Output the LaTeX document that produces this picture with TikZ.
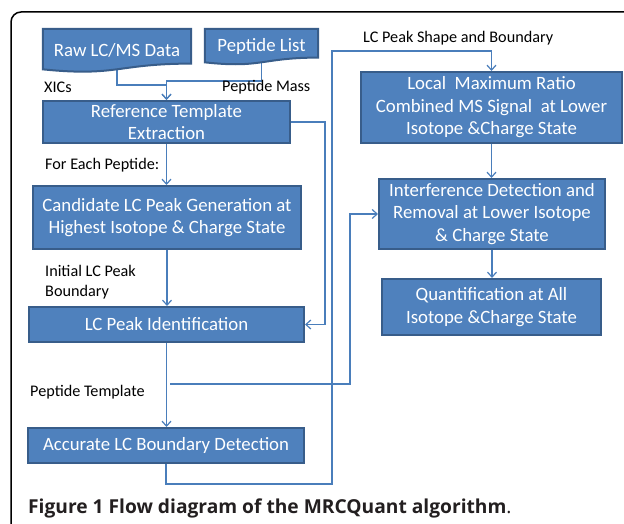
\documentclass[tikz,border=0pt]{standalone}
\usepackage{fontspec}
\setmainfont{Carlito}
\newfontfamily\capfont{Open Sans}
\usetikzlibrary{arrows.meta,calc}
\pgfdeclarelayer{wires}
\pgfdeclarelayer{shapes}
\pgfsetlayers{wires,shapes,main}
\definecolor{boxfill}{HTML}{4F81BD}
\definecolor{boxline}{HTML}{385D8A}
\definecolor{wirecol}{HTML}{4A7EBB}
\definecolor{captext}{HTML}{231F20}

\begin{document}
\begin{tikzpicture}[x=1pt,y=-1pt,
  box/.style={draw=boxline, fill=boxfill, line width=2pt, text=white,
    font=\fontsize{18.8}{22.5}\selectfont, align=center, inner sep=2pt},
  doctext/.style={text=white, font=\fontsize{18.8}{22.5}\selectfont, inner sep=0pt},
  docshape/.style={draw=boxline, fill=boxfill, line width=2pt},
  wire/.style={draw=wirecol, line width=1.2pt},
  arr/.style={wire, -{Straight Barb[length=5pt,width=9pt]}},
  lbl/.style={font=\fontsize{16.2}{20}\selectfont, anchor=west, align=left, inner sep=0pt},
  ]
\useasboundingbox (0,0) rectangle (624,524);
\begin{pgfonlayer}{wires}
\fill[white] (0,0) rectangle (624,524);
\end{pgfonlayer}
\begin{scope}
\clip (0,0) rectangle (624,524);
% outer frame (cut by the page edge on the right and at the bottom)
\draw[line width=1.5pt, rounded corners=10pt] (11,560) -- (11,12) -- (660,12);
\end{scope}

% inputs (document shapes)
\node[doctext, minimum width=148pt, minimum height=43pt] (raw) at (117,50.5) {Raw LC/MS Data};
\node[doctext, minimum width=113pt, minimum height=35.5pt] (pep) at (261.5,46.75) {Peptide List};
\begin{pgfonlayer}{shapes}
\foreach \d in {raw,pep}{
  \path[docshape] (\d.north west) -- (\d.north east)
    -- ($(\d.north east)!0.802!(\d.south east)$)
    .. controls ($(\d.north)!0.802!(\d.south)$) and ($(\d.north)!1.108!(\d.south)$)
    .. ($(\d.north west)!0.934!(\d.south west)$) -- cycle;
}
\end{pgfonlayer}

% left column
\node[box, minimum width=247pt, minimum height=42pt] (ref) at (166.5,122) {Reference Template\\Extraction};
\node[box, minimum width=268pt, minimum height=63pt] (cand) at (167,217.5) {Candidate LC Peak Generation at\\Highest Isotope \& Charge State};
\node[box, minimum width=275pt, minimum height=35pt] (lcid) at (166.5,324.5) {LC Peak Identification};
\node[box, minimum width=276pt, minimum height=35pt] (acc) at (166,445.5) {Accurate LC Boundary Detection};

% right column
\node[box, minimum width=261pt, minimum height=71pt] (local) at (491.5,107.5) {Local\ \ Maximum Ratio\\Combined MS Signal\ \ at Lower\\Isotope \&Charge State};
\node[box, minimum width=226pt, minimum height=70pt] (interf) at (492,214) {Interference Detection and\\Removal at Lower Isotope\\\& Charge State};
\node[box, minimum width=219pt, minimum height=56pt] (quant) at (491.5,307) {Quantification at All\\Isotope \&Charge State};

% labels
\node[lbl] (lxic) at (44,87) {XICs};
\node[lbl] (lmass) at (222,87) {Peptide Mass};
\node[lbl] (lshape) at (363,38) {LC Peak Shape and Boundary};
\node[lbl] (leach) at (45,165) {For Each Peptide:};
\node[lbl] (linit) at (45,282) {Initial LC Peak\\Boundary};
\node[lbl] (ltempl) at (30,392) {Peptide Template};

% caption
\node[anchor=west, inner sep=0pt, text=captext, font=\capfont\fontsize{19.2}{22}\selectfont] (cap) at (28,508)
  {\textbf{Figure 1 Flow diagram of the MRCQuant algorithm}.};

% connectors
\coordinate (loopB) at (332,484);
\coordinate (loopT) at (332,51);
\coordinate (tmpl) at (170,384);
\begin{pgfonlayer}{wires}
\draw[arr] (raw.center) |- ([yshift=15pt]ref.north) -- (ref.north);
\draw[arr] (pep.center) |- ([yshift=19pt]ref.north) -- (ref.north);
\draw[arr] (ref.south) -- (ref.south |- cand.north);
\draw[arr] (cand.south) -- (cand.south |- lcid.north);
\draw[arr] (lcid.south) -- (lcid.south |- acc.north);
\draw[arr] (ref.east) -- ++(34,0) |- (lcid.east);
\draw[arr] (acc.south) |- (loopB) -- (loopT) -| (local.north);
\draw[arr] (tmpl) -| ([xshift=-28pt]interf.west) -- (interf.west);
\draw[arr] (local.south) -- (local.south |- interf.north);
\draw[arr] (interf.south) -- (interf.south |- quant.north);
\end{pgfonlayer}
\end{tikzpicture}
\end{document}
